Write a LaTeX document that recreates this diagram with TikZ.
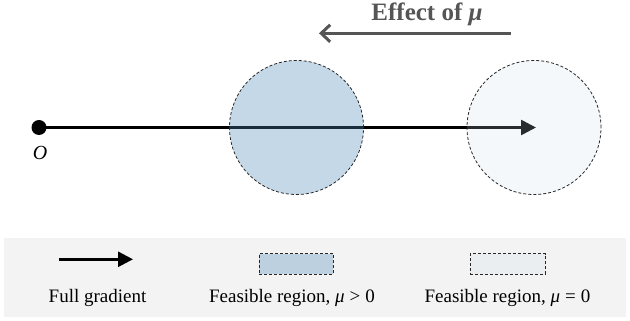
\documentclass[tikz,border=0pt]{standalone}
\usepackage{fontspec}
\setmainfont{Liberation Serif}
\usepackage{tikz}
\usepackage{xcolor}
\usetikzlibrary{arrows.meta}
\definecolor{regionblue}{RGB}{77,138,185}
\definecolor{regionpale}{RGB}{200,220,235}
\definecolor{effectgray}{RGB}{85,85,85}
\definecolor{legendbg}{RGB}{243,243,243}

\begin{document}
\begin{tikzpicture}[x=1pt,y=1pt,
  gradarrow/.style={line width=2.6pt,-{Triangle[length=15pt,width=15pt]}},
  regionedge/.style={draw=black!85,line width=0.8pt,dash pattern=on 3pt off 2pt},
  legendtext/.style={font=\fontsize{19}{22}\selectfont,anchor=base}]
\useasboundingbox (0,0) rectangle (630,321);
% origin and full gradient
\node[circle,fill=black,inner sep=0pt,minimum size=15pt] (o) at (39,193.5) {};
\node[font=\fontsize{20}{22}\selectfont\itshape] (olabel) at (40,168.5) {O};
\coordinate (tip) at (536,193.5);
\draw[gradarrow] (o.center) -- (tip);
% feasible regions
\node[circle,minimum size=134pt,inner sep=0pt,regionedge,fill=regionblue,fill opacity=0.33] (fr1) at (296.5,193.5) {};
\node[circle,minimum size=134pt,inner sep=0pt,regionedge,fill=regionpale,fill opacity=0.2] (fr2) at (534,193.5) {};
% effect of mu
\coordinate (efrom) at (511,287.7);
\coordinate (eto) at (319,287.7);
\draw[effectgray,line width=3pt,-{Straight Barb[length=9pt,width=17pt]}] (efrom) -- (eto);
\node[anchor=base,text=effectgray,font=\fontsize{25}{28}\selectfont\bfseries] (etitle) at (427,300) {Effect of \textit{μ}};
% legend
\fill[legendbg] (4,4.3) rectangle (626,83.3);
\coordinate (lstart) at (59,61.7);
\coordinate (lend) at (133,61.7);
\draw[gradarrow] (lstart) -- (lend);
\node[regionedge,fill=regionblue,fill opacity=0.33,minimum width=74pt,minimum height=20.6pt,inner sep=0pt] (lr1) at (296.3,57) {};
\node[regionedge,fill=regionpale,fill opacity=0.2,minimum width=75pt,minimum height=20.6pt,inner sep=0pt] (lr2) at (507.7,57) {};
\node[legendtext] (t1) at (97.5,18.7) {Full gradient};
\node[legendtext] (t2) at (292,18.7) {Feasible region, \textit{μ}\hspace{5pt}>\hspace{5pt}0};
\node[legendtext] (t3) at (507.5,18.7) {Feasible region, \textit{μ}\hspace{5pt}=\hspace{5pt}0};
\end{tikzpicture}
\end{document}
